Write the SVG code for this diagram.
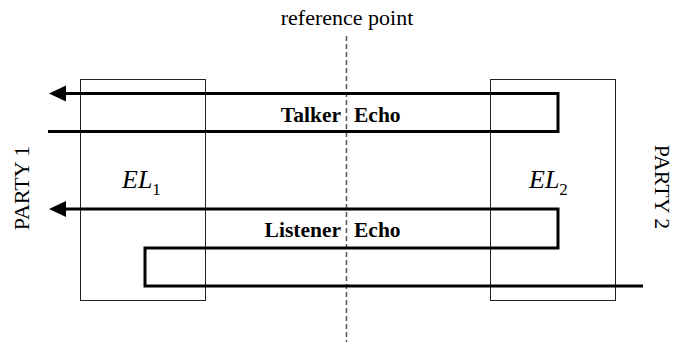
<svg xmlns="http://www.w3.org/2000/svg" width="675" height="342" viewBox="0 0 675 342">
  <style>
    .box { fill: none; stroke: #222; stroke-width: 1; }
    .path { fill: none; stroke: #000; stroke-width: 3; stroke-linejoin: miter; stroke-linecap: butt; }
    .ref { fill: none; stroke: #555; stroke-width: 1.5; stroke-dasharray: 5 3; }
    .lbl { font-family: "Liberation Serif", "Times New Roman", serif; fill: #000; }
    .reg { font-size: 22px; }
    .bold { font-size: 21.5px; font-weight: bold; }
    .el { font-size: 26px; }
  </style>
  <defs>
    <marker id="head" markerUnits="userSpaceOnUse" markerWidth="18" markerHeight="18" refX="0" refY="9" orient="auto" viewBox="0 0 18 18">
      <path d="M0,1 L17,9 L0,17 Z" fill="#000"/>
    </marker>
  </defs>

  <!-- echo-loss blocks -->
  <g id="el1">
    <rect class="box" x="80.5" y="79.5" width="125" height="221"/>
    <text class="lbl el" x="122" y="188"><tspan font-style="italic">EL</tspan><tspan font-size="17" dy="7">1</tspan></text>
  </g>
  <g id="el2">
    <rect class="box" x="490.5" y="79.5" width="125" height="221"/>
    <text class="lbl el" x="529" y="188"><tspan font-style="italic">EL</tspan><tspan font-size="17" dy="7">2</tspan></text>
  </g>

  <!-- parties at either end -->
  <g id="party1">
    <text class="lbl reg" transform="translate(29,188) rotate(-90)" text-anchor="middle">PARTY 1</text>
  </g>
  <g id="party2">
    <text class="lbl reg" transform="translate(655,187) rotate(90)" text-anchor="middle">PARTY 2</text>
  </g>

  <!-- reference point -->
  <g id="refpoint">
    <text class="lbl reg" x="347" y="25" text-anchor="middle">reference point</text>
    <line class="ref" x1="346.5" y1="36" x2="346.5" y2="342"/>
  </g>

  <!-- echo signal paths -->
  <g id="connectors">
    <path class="path" d="M48,131.5 H558 V93.5 H66" marker-end="url(#head)"/>
    <path class="path" d="M643,286 H145 V248 H558 V209 H66" marker-end="url(#head)"/>
  </g>

  <!-- echo labels -->
  <g id="labels">
    <text class="lbl bold" x="341" y="121.5" text-anchor="end">Talker</text>
    <text class="lbl bold" x="354" y="121.5">Echo</text>
    <text class="lbl bold" x="341" y="236.5" text-anchor="end">Listener</text>
    <text class="lbl bold" x="354" y="236.5">Echo</text>
  </g>
</svg>
